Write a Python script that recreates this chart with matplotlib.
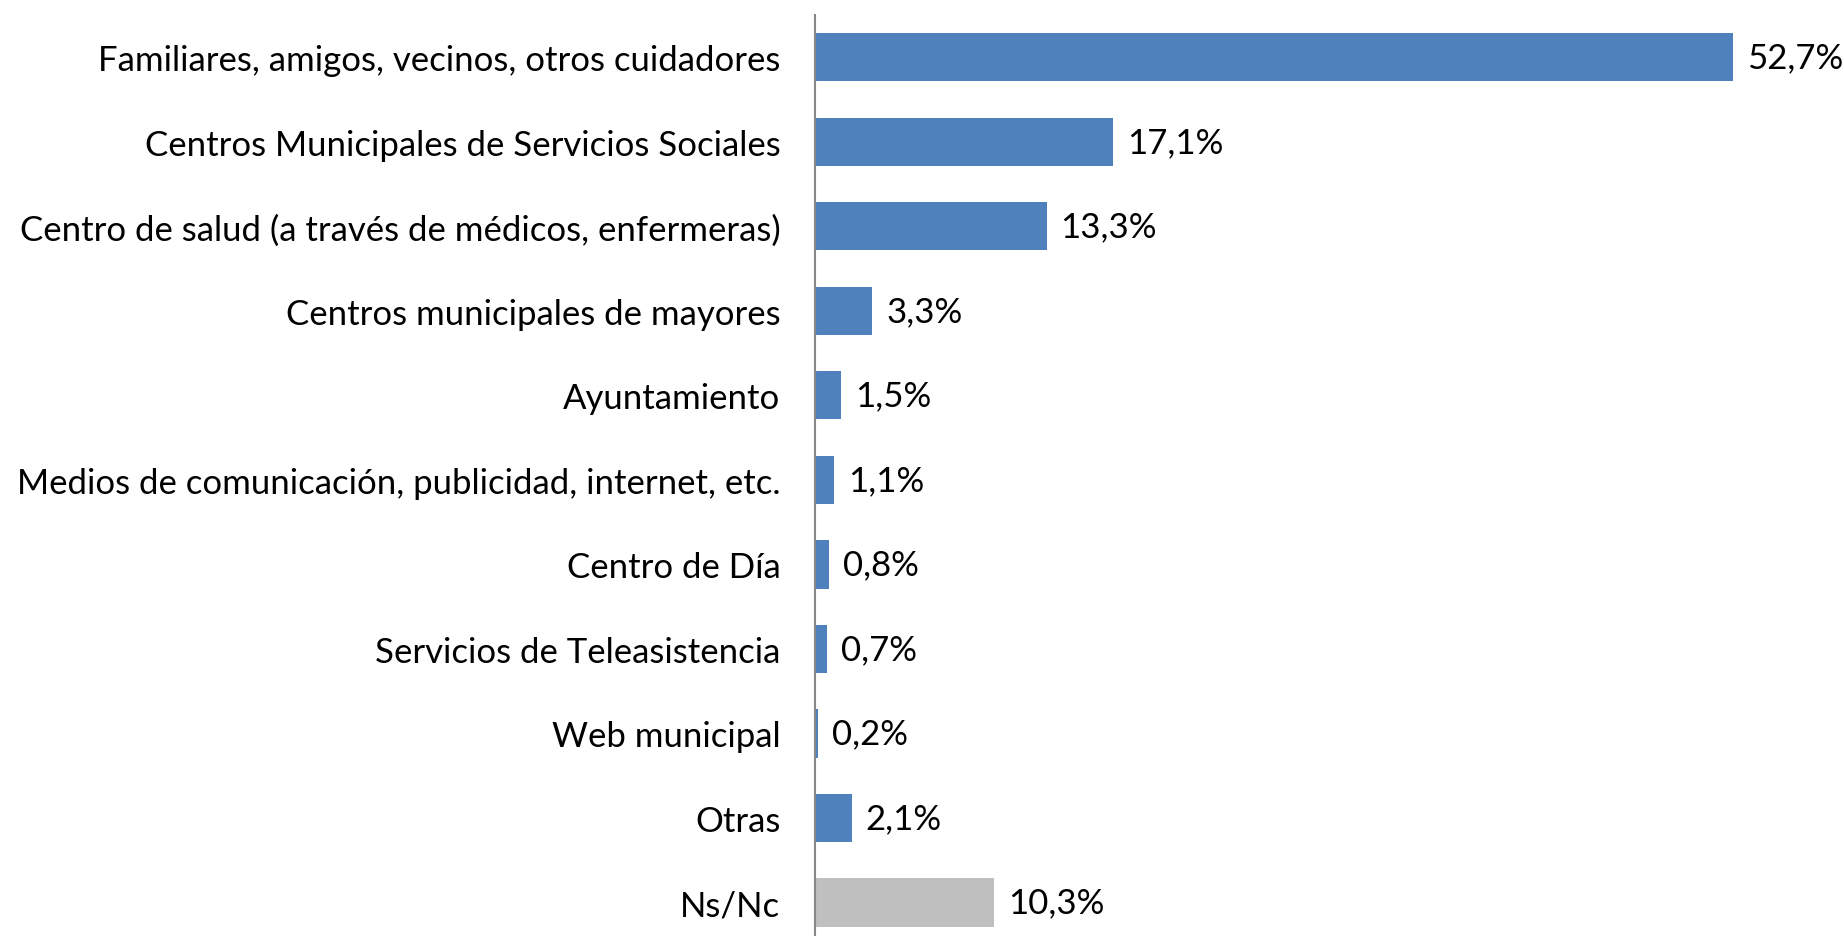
import matplotlib.pyplot as plt
import numpy as np

plt.rcParams['font.family'] = ['Lato', 'DejaVu Sans']

categorias = ['Familiares, amigos, vecinos, otros cuidadores',
              'Centros Municipales de Servicios Sociales',
              'Centro de salud (a través de médicos, enfermeras)',
              'Centros municipales de mayores',
              'Ayuntamiento',
              'Medios de comunicación, publicidad, internet, etc.',
              'Centro de Día',
              'Servicios de Teleasistencia',
              'Web municipal',
              'Otras',
              'Ns/Nc']
valores = [52.7, 17.1, 13.3, 3.3, 1.5, 1.1, 0.8, 0.7, 0.2, 2.1, 10.3]
etiquetas = ['52,7%', '17,1%', '13,3%', '3,3%', '1,5%', '1,1%', '0,8%', '0,7%', '0,2%', '2,1%', '10,3%']

colores = ['#4F81BD'] * (len(valores) - 1) + ['#BFBFBF']

fig = plt.figure(figsize=(18.44, 9.37), dpi=100)
ax = fig.add_axes([815/1844, 0, 958/1844, 1 - 16/937])

y = np.arange(len(valores))
ax.barh(y, valores, height=0.57, color=colores)
for yi, v, t in zip(y, valores, etiquetas):
    ax.text(v + 0.8, yi, t, va='center', ha='left', fontsize=25, color='black')

ax.set_xlim(0, 55)
ax.set_ylim(10.396, -0.5)
ax.set_yticks(y)
ax.set_yticklabels(categorias, fontsize=25)
ax.tick_params(axis='y', length=0, pad=25)
ax.set_xticks([])
for s in ['top', 'right', 'bottom']:
    ax.spines[s].set_visible(False)
ax.spines['left'].set_color('#868686')
ax.spines['left'].set_linewidth(1.5)

fig.savefig('out.png', dpi=100)
